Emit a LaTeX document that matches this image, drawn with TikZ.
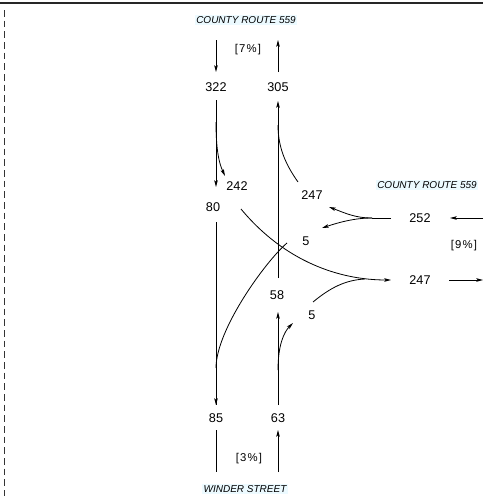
\documentclass[tikz,border=0pt]{standalone}
\usepackage{fontspec}
\setmainfont{Liberation Sans}
\newfontfamily\pctfont[LetterSpace=10]{Liberation Sans}
\usetikzlibrary{arrows.meta}
\begin{document}
\begin{tikzpicture}[x=0.75pt,y=-0.75pt,
  vol/.style={font=\fontsize{9.5}{11}\selectfont,inner sep=1pt},
  pct/.style={font=\pctfont\fontsize{8.5}{10}\selectfont,inner sep=1pt},
  road/.style={font=\fontsize{7.5}{9}\selectfont\itshape,inner sep=1pt,fill={rgb,255:red,236;green,250;blue,255}},
  flow/.style={line width=0.6pt},
  arr/.style={flow,-{Stealth[length=5pt,width=2.6pt,inset=1pt]}}]
\useasboundingbox (0,0) rectangle (483,496);
% frame
\draw[line width=1.5pt,black!85] (0,3) -- (483,3);
\draw[line width=1pt,black!80,dash pattern=on 4.9pt off 3.1pt] (4.5,10) -- (4.5,496);
% labels
\node[road] (tN) at (246,20) {COUNTY ROUTE 559};
\node[road] (tE) at (427,185) {COUNTY ROUTE 559};
\node[road] (tS) at (245,489) {WINDER STREET};
\node[pct] (p7) at (248,50) {[7\%]};
\node[pct] (p3) at (249,459) {[3\%]};
\node[pct] (p9) at (464,246) {[9\%]};
\node[vol] (n322) at (216,87) {322};
\node[vol] (n305) at (278,87) {305};
\node[vol] (n242) at (237,186) {242};
\node[vol] (n80) at (213,207) {80};
\node[vol] (n247a) at (312,195) {247};
\node[vol] (n5a) at (306,241) {5};
\node[vol] (n58) at (277,295) {58};
\node[vol] (n5b) at (312,315) {5};
\node[vol] (n85) at (216,418) {85};
\node[vol] (n63) at (278,418) {63};
\node[vol] (n252) at (420,218) {252};
\node[vol] (n247b) at (420,280) {247};
% coordinates
\coordinate (nInS) at (216,40); \coordinate (nInE) at (216,72);
\coordinate (nOutS) at (278,72); \coordinate (nOutE) at (278,40);
\coordinate (sbS) at (216,100); \coordinate (sbE) at (216,187);
\coordinate (rtS) at (216,122); \coordinate (rtE) at (225,176);
\coordinate (thS) at (216,222); \coordinate (thE) at (216,405);
\coordinate (lS) at (241,209); \coordinate (lE) at (391,280);
\coordinate (sOutS) at (216,430); \coordinate (sOutE) at (216,472);
\coordinate (sInS) at (278,472); \coordinate (sInE) at (278,430);
\coordinate (nbS) at (278,405); \coordinate (nbE) at (278,312);
\coordinate (nrS) at (278,370); \coordinate (nrE) at (293,323);
\coordinate (nlS) at (216,368); \coordinate (nlE) at (287,243);
\coordinate (upS) at (278,278); \coordinate (upE) at (278,101);
\coordinate (wrS) at (298,182); \coordinate (wrE) at (278,125);
\coordinate (wbS) at (391,218); \coordinate (wbM) at (372,218);
\coordinate (wbR) at (329,207); \coordinate (wbL) at (322,228);
\coordinate (erS) at (313,302); \coordinate (erE) at (365,279);
\coordinate (eInS) at (483,218); \coordinate (eInE) at (450,218);
\coordinate (eOutS) at (449,280); \coordinate (eOutE) at (483,280);
% north leg
\draw[arr] (nInS) -- (nInE);
\draw[arr] (nOutS) -- (nOutE);
\draw[arr] (sbS) -- (sbE);
\draw[arr] (rtS) .. controls (216,150) and (219,163) .. (rtE);
\draw[flow] (thS) -- (thE);
\draw[arr] (216,380) -- (thE);
\draw[arr] (lS) .. controls (285,262) and (340,280) .. (lE);
% south leg
\draw[flow] (sOutS) -- (sOutE);
\draw[arr] (sInS) -- (sInE);
\draw[arr] (nbS) -- (nbE);
\draw[arr] (nrS) .. controls (278,345) and (284,332) .. (nrE);
\draw[flow] (nlS) .. controls (216,330) and (265,262) .. (nlE);
\draw[arr] (upS) -- (upE);
\draw[flow] (wrS) .. controls (286,165) and (278,148) .. (wrE);
% east leg
\draw[flow] (wbS) -- (wbM);
\draw[arr] (wbM) .. controls (355,218) and (345,213) .. (wbR);
\draw[arr] (wbM) .. controls (355,218) and (340,222) .. (wbL);
\draw[flow] (erS) .. controls (330,288) and (345,280) .. (erE);
\draw[arr] (eInS) -- (eInE);
\draw[arr] (eOutS) -- (eOutE);
\end{tikzpicture}
\end{document}
